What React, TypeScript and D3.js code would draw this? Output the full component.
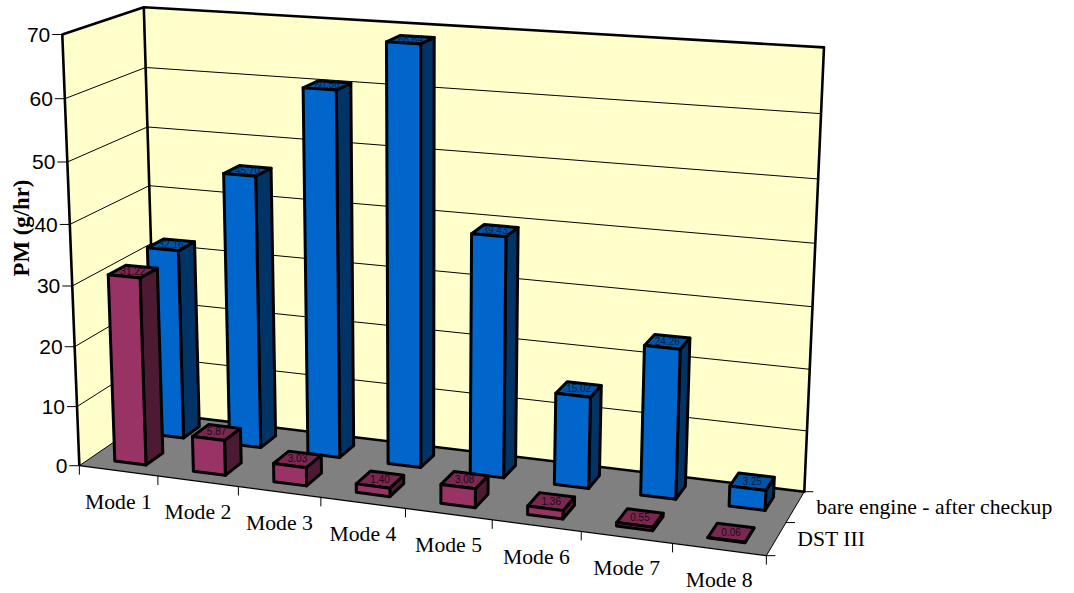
import React from "react";
import * as d3 from "d3";

const modes = ["Mode 1", "Mode 2", "Mode 3", "Mode 4", "Mode 5", "Mode 6", "Mode 7", "Mode 8"];
const seriesNames = ["DST III", "bare engine - after checkup"];
const dstValues = [31.22, 5.87, 3.03, 1.4, 3.08, 1.36, 0.55, 0.06];
const bareValues = [32.16, 45.7, 60.56, 68.64, 39.43, 15.02, 24.26, 3.25];
const valueTicks = [0, 10, 20, 30, 40, 50, 60, 70];

const WIDTH = 1074;
const HEIGHT = 593;

// Where reference points of the 3D box land on screen: [u, v, value, x, y].
// u runs along the categories (0-8), v along the series (0-2).
const calibration: number[][] = [
  [0, 0, 0, 80, 466.5], [0, 0, 10, 77.5, 406.7], [0, 0, 20, 75, 346.7], [0, 0, 30, 72.4, 285.7],
  [0, 0, 40, 69.9, 224], [0, 0, 50, 67.3, 161.7], [0, 0, 60, 64.6, 98], [0, 0, 70, 62, 34],
  [0, 2, 0, 155.6, 412.5], [0, 2, 10, 154, 356], [0, 2, 20, 152.4, 300], [0, 2, 30, 150.8, 244],
  [0, 2, 40, 149.3, 186.7], [0, 2, 50, 147.5, 127.7], [0, 2, 60, 146, 68.3], [0, 2, 70, 144, 7],
  [8, 2, 0, 805, 491], [8, 2, 10, 807.5, 431], [8, 2, 20, 810, 369], [8, 2, 30, 812.5, 307],
  [8, 2, 40, 815, 244], [8, 2, 50, 818, 180], [8, 2, 60, 821, 113], [8, 2, 70, 824, 47],
  [1, 0, 0, 157.7, 476.6], [2, 0, 0, 238.5, 487], [3, 0, 0, 321, 497.7], [4, 0, 0, 405.5, 508.7],
  [5, 0, 0, 492, 520], [6, 0, 0, 581, 531.5], [7, 0, 0, 672, 543.3], [8, 0, 0, 766, 555],
];

// Least-squares fit of a 3x4 projective camera through the reference points.
function fitCamera(points: number[][]): number[] {
  const n = 11;
  const ata = Array.from({ length: n }, () => new Array(n + 1).fill(0));
  const add = (row: number[], rhs: number) => {
    for (let i = 0; i < n; i++) {
      for (let j = 0; j < n; j++) ata[i][j] += row[i] * row[j];
      ata[i][n] += row[i] * rhs;
    }
  };
  for (const [u, v, val, x, y] of points) {
    const w = val / 70;
    add([u, v, w, 1, 0, 0, 0, 0, -x * u, -x * v, -x * w], x);
    add([0, 0, 0, 0, u, v, w, 1, -y * u, -y * v, -y * w], y);
  }
  for (let c = 0; c < n; c++) {
    let p = c;
    for (let r = c + 1; r < n; r++) if (Math.abs(ata[r][c]) > Math.abs(ata[p][c])) p = r;
    [ata[c], ata[p]] = [ata[p], ata[c]];
    for (let r = 0; r < n; r++) {
      if (r === c) continue;
      const f = ata[r][c] / ata[c][c];
      for (let k = c; k <= n; k++) ata[r][k] -= f * ata[c][k];
    }
  }
  return ata.map((row, i) => row[n] / row[i]);
}

const cam = fitCamera(calibration);

function project(u: number, v: number, value: number): [number, number] {
  const w = value / 70;
  const d = cam[8] * u + cam[9] * v + cam[10] * w + 1;
  return [
    (cam[0] * u + cam[1] * v + cam[2] * w + cam[3]) / d,
    (cam[4] * u + cam[5] * v + cam[6] * w + cam[7]) / d,
  ];
}

const uScale = d3.scaleBand<string>().domain(modes).range([0.012, 8.012]).paddingInner(0.6).paddingOuter(0.3);
const vScale = d3.scaleBand<string>().domain(seriesNames).range([0, 2]).paddingInner(0.56).paddingOuter(0.28);

const poly = (pts: [number, number][]) => (d3.line()(pts) ?? "") + "Z";
const seg = (a: [number, number], b: [number, number]) => d3.line()([a, b]) ?? "";

const palette = [
  { front: "#993366", top: "#7a2851", side: "#4d1a33", text: "#1f0714" },
  { front: "#0066cc", top: "#0055aa", side: "#003366", text: "#001c3d" },
];

function Bar({ mode, series, value, colors }: { mode: string; series: string; value: number; colors: typeof palette[number] }) {
  const u0 = uScale(mode)!;
  const u1 = u0 + uScale.bandwidth();
  const v0 = vScale(series)!;
  const v1 = v0 + vScale.bandwidth();
  const front = [project(u0, v0, 0), project(u1, v0, 0), project(u1, v0, value), project(u0, v0, value)];
  const side = [project(u1, v0, 0), project(u1, v1, 0), project(u1, v1, value), project(u1, v0, value)];
  const top = [project(u0, v0, value), project(u1, v0, value), project(u1, v1, value), project(u0, v1, value)];
  const [cx, cy] = project((u0 + u1) / 2, (v0 + v1) / 2, value);
  return (
    <g stroke="#000" strokeWidth={3} strokeLinejoin="round">
      <path d={poly(side)} fill={colors.side} />
      <path d={poly(top)} fill={colors.top} />
      <path d={poly(front)} fill={colors.front} />
      <text x={cx} y={cy} dy="0.3em" textAnchor="middle" stroke="none" fill={colors.text}
        fontFamily="'Liberation Sans', Arial, sans-serif" fontSize={10}>
        {value.toFixed(2)}
      </text>
    </g>
  );
}

export default function App() {
  const backWall = poly([project(0, 2, 0), project(8, 2, 0), project(8, 2, 70), project(0, 2, 70)]);
  const sideWall = poly([project(0, 0, 0), project(0, 2, 0), project(0, 2, 70), project(0, 0, 70)]);
  const floor = poly([project(0, 0, 0), project(8, 0, 0), project(8, 2, 0), project(0, 2, 0)]);
  const ticksU = d3.range(0, 9);

  return (
    <svg width={WIDTH} height={HEIGHT} style={{ position: "absolute", left: 0, top: 0, background: "#fff" }}>
      <path d={sideWall} fill="#ffffcc" />
      <path d={backWall} fill="#ffffcc" />
      <path d={floor} fill="#808080" />

      {/* gridlines across both walls, with the value axis ticks */}
      <g stroke="#000" strokeWidth={1} fill="none">
        {valueTicks.filter((t) => t > 0 && t < 70).map((t) => (
          <path key={t} d={d3.line()([project(0, 0, t), project(0, 2, t), project(8, 2, t)]) ?? ""} />
        ))}
        {valueTicks.map((t) => {
          const [x, y] = project(0, 0, t);
          return <path key={t} d={seg([x - 10, y], [x, y])} />;
        })}
        {ticksU.map((i) => {
          const [x, y] = project(i, 0, 0);
          return <path key={i} d={seg([x, y], [x, y + 9])} />;
        })}
        {[0, 1, 2].map((j) => {
          const [x, y] = project(8, j, 0);
          return <path key={j} d={seg([x, y], [x + 9, y])} />;
        })}
        <path d={seg(project(0, 0, 0), project(8, 0, 0))} strokeWidth={1.3} />
        <path d={seg(project(8, 0, 0), project(8, 2, 0))} />
        <path d={seg(project(0, 0, 0), project(0, 2, 0))} />
      </g>

      {/* heavy frame of the walls */}
      <g stroke="#000" strokeWidth={2.6} fill="none" strokeLinejoin="round">
        <path d={d3.line()([project(0, 0, 0), project(0, 0, 70), project(0, 2, 70), project(8, 2, 70), project(8, 2, 0), project(0, 2, 0)]) ?? ""} />
        <path d={seg(project(0, 2, 70), project(0, 2, 0))} />
      </g>

      {modes.map((m, i) => (
        <Bar key={m} mode={m} series={seriesNames[1]} value={bareValues[i]} colors={palette[1]} />
      ))}
      {modes.map((m, i) => (
        <Bar key={m} mode={m} series={seriesNames[0]} value={dstValues[i]} colors={palette[0]} />
      ))}

      <g fontFamily="'Liberation Sans', Arial, sans-serif" fontSize={21} fill="#000" textAnchor="end">
        {valueTicks.map((t) => {
          const [x, y] = project(0, 0, t);
          return <text key={t} x={x - 12} y={y} dy="0.35em">{t}</text>;
        })}
      </g>

      <g fontFamily="'Liberation Serif', 'Times New Roman', serif" fontSize={21.7} fill="#000">
        {modes.map((m, i) => {
          const [x, y] = project(i + 0.5, 0, 0);
          return <text key={m} x={x} y={y + 38} textAnchor="middle">{m}</text>;
        })}
        {seriesNames.map((s, j) => {
          const [x, y] = project(8, j + 0.5, 0);
          return <text key={s} x={x + 21} y={y + 7}>{s}</text>;
        })}
      </g>

      <text transform="translate(29,228) rotate(-90)" textAnchor="middle"
        fontFamily="'Liberation Serif', 'Times New Roman', serif" fontWeight="bold" fontSize={22.8} fill="#000">
        PM (g/hr)
      </text>
    </svg>
  );
}
